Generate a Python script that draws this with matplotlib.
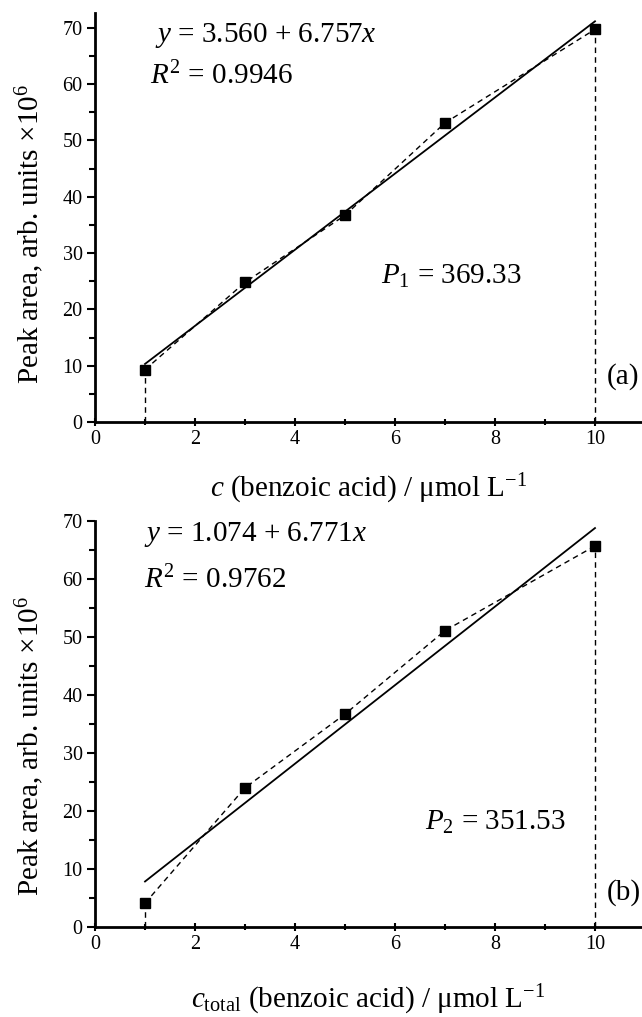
import matplotlib

matplotlib.use("Agg")
import matplotlib.pyplot as plt
from matplotlib.ticker import MultipleLocator

# fonts: Times-like serif everywhere, also inside mathtext
plt.rcParams["font.family"] = ["Liberation Serif", "DejaVu Serif"]
plt.rcParams["mathtext.fontset"] = "custom"
plt.rcParams["mathtext.rm"] = "Liberation Serif"
plt.rcParams["mathtext.it"] = "Liberation Serif:italic"
plt.rcParams["mathtext.bf"] = "Liberation Serif:bold"

# concentrations, umol/L
conc = [1, 3, 5, 7, 10]
# peak areas x 10^6
area_a = [9.3, 24.8, 36.7, 53.1, 69.7]
area_b = [4.1, 24.0, 36.7, 51.1, 65.7]

# linear fits (intercept, slope) and stats
fit_a = [3.560, 6.757]
fit_b = [1.074, 6.771]
r2_a = "0.9946"
r2_b = "0.9762"
p_a = "369.33"
p_b = "351.53"

fig = plt.figure(figsize=(6.42, 10.17), dpi=100)
ax1 = fig.add_axes([0.148, 0.585, 0.852, 0.4022])
ax2 = fig.add_axes([0.148, 0.0885, 0.852, 0.3992])


def draw_panel(ax, y, fit, r2, p_name, p_val, tag, ymax, xlabel, txt_pos):
    # transparent background so labels of the other panel are not hidden
    ax.patch.set_alpha(0)
    # vertical drop lines at the ends of the calibration range
    ax.vlines([conc[0], conc[-1]], 0, [y[0], y[-1]], colors="k",
              linestyles=(0, (4, 3)), linewidth=1.0)
    # measured points joined by dashed line
    ax.plot(conc, y, color="k", linestyle=(0, (4, 3)), linewidth=1.0,
            marker="s", markersize=6.5)
    # regression line over the data range
    xs = [conc[0], conc[-1]]
    ax.plot(xs, [fit[0] + fit[1] * v for v in xs], "k-", linewidth=1.3)

    ax.set_xlim(0, 10.94)
    ax.set_ylim(0, ymax)
    ax.xaxis.set_major_locator(MultipleLocator(2))
    ax.xaxis.set_minor_locator(MultipleLocator(1))
    ax.yaxis.set_major_locator(MultipleLocator(10))
    ax.yaxis.set_minor_locator(MultipleLocator(5))
    ax.spines["top"].set_visible(False)
    ax.spines["right"].set_visible(False)
    for s in ("left", "bottom"):
        ax.spines[s].set_linewidth(2.0)
    ax.tick_params(axis="both", which="major", length=6, width=1.5,
                   labelsize=14.5, pad=3)
    ax.tick_params(axis="both", which="minor", length=4, width=1.5)
    ax.tick_params(axis="x", which="both", direction="inout")

    ax.set_ylabel(r"Peak area, arb. units $\times$10$^6$", fontsize=21)
    ax.set_xlabel(xlabel, fontsize=21)

    ex, ey, rx, ry, px, py, ty = txt_pos
    ax.text(ex, ey, rf"$y$ = {fit[0]:.3f} + {fit[1]:.3f}$x$",
            fontsize=21, va="center")
    ax.text(rx, ry, rf"$R^2$ = {r2}", fontsize=21, va="center")
    ax.text(px, py, rf"${p_name}$ = {p_val}", fontsize=21, va="center")
    ax.text(10.24, ty, tag, fontsize=21, va="center")


draw_panel(ax1, area_a, fit_a, r2_a, "P_1", p_a, "(a)", 72.6,
           r"$c$ (benzoic acid) / μmol L$^{-1}$",
           (1.2, 68.6, 1.1, 61.5, 5.72, 25.8, 8.0))
draw_panel(ax2, area_b, fit_b, r2_b, "P_2", p_b, "(b)", 70,
           r"$c_{\mathrm{total}}$ (benzoic acid) / μmol L$^{-1}$",
           (0.98, 67.6, 0.98, 59.8, 6.6, 18.1, 5.9))

ax1.yaxis.set_label_coords(-0.09, 0.46)
ax2.yaxis.set_label_coords(-0.09, 0.445)
ax1.xaxis.set_label_coords(0.5, -0.122)
ax2.xaxis.set_label_coords(0.5, -0.138)

fig.savefig("out.png", dpi=100)
